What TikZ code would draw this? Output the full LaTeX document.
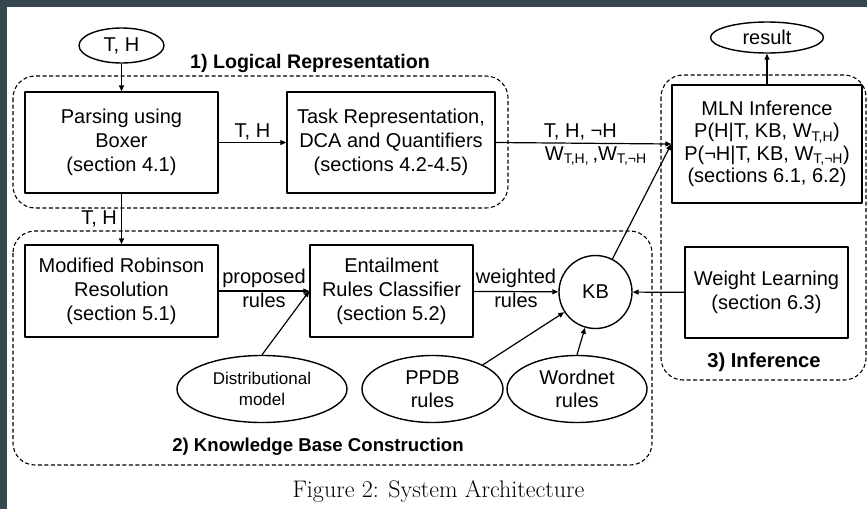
\documentclass[tikz,border=0pt]{standalone}
\usepackage{fontspec}
\setsansfont{Liberation Sans}
\usetikzlibrary{shapes.geometric,arrows.meta}
\definecolor{frameslate}{HTML}{37474F}

\begin{document}
\begin{tikzpicture}[x=1pt, y=-1pt, line width=1.4pt, line join=round,
  txt/.style={font=\fontsize{20}{24}\selectfont\sffamily, align=center},
  blk/.style={draw, rectangle, inner sep=0pt, txt},
  oval/.style={draw, ellipse, inner sep=0pt, txt},
  grp/.style={draw, line width=1.1pt, dash pattern=on 4pt off 2.5pt, rounded corners=22pt},
  ttl/.style={font=\fontsize{19.6}{23}\selectfont\sffamily\bfseries, inner sep=0pt},
  lbl/.style={txt, inner sep=2pt},
  flow/.style={-{Triangle[length=6pt,width=5pt]}, line width=1.2pt}]

  %% ════ 底色（左上的深色边）════
  \fill[frameslate] (0,0) rectangle (867,509);
  \fill[white] (7,7) rectangle (867,509);

  %% ════ 三个虚线分组 ════
  \draw[grp] (13,76) rectangle (508,208);
  \draw[grp] (13,231) rectangle (652,465);
  \draw[grp] (661,75) rectangle (866,380);

  \node[ttl] (title1) at (310,63) {1) Logical Representation};
  \node[ttl, font=\fontsize{18.6}{23}\selectfont\sffamily\bfseries] (title2) at (318,447) {2) Knowledge Base Construction};
  \node[ttl, font=\fontsize{20.2}{23}\selectfont\sffamily\bfseries] (title3) at (764,362) {3) Inference};

  %% ════ 上排：逻辑表示 + 推理 ════
  \node[oval, minimum width=85pt, minimum height=35pt] (th) at (121.5,45.5) {T, H};
  \node[blk, minimum width=193pt, minimum height=101pt] (parse) at (121.5,142.5)
    {Parsing using\\Boxer\\(section 4.1)};
  \node[blk, minimum width=208pt, minimum height=101pt] (task) at (391,142.5)
    {Task Representation,\\DCA and Quantifiers\\(sections 4.2-4.5)};
  \node[blk, minimum width=190pt, minimum height=118pt, font=\fontsize{20}{22.5}\selectfont\sffamily] (mln) at (767,144)
    {MLN Inference\\P(H|T, KB, W\textsubscript{T,H})\\P(¬H|T, KB, W\textsubscript{T,¬H})\\(sections 6.1, 6.2)};
  \node[oval, minimum width=113pt, minimum height=31pt] (result) at (767,37.5) {result};

  %% ════ 下排：知识库构建 ════
  \node[blk, minimum width=193pt, minimum height=92pt] (robinson) at (121.5,291)
    {Modified Robinson\\Resolution\\(section 5.1)};
  \node[blk, minimum width=163pt, minimum height=92pt] (classifier) at (391.5,291)
    {Entailment\\Rules Classifier\\(section 5.2)};
  \node[draw, circle, inner sep=0pt, minimum size=73pt, txt] (kb) at (595.5,292) {KB};
  \node[blk, minimum width=163pt, minimum height=91pt] (weight) at (766.5,292.5)
    {Weight Learning\\(section 6.3)};
  \node[oval, minimum width=170pt, minimum height=67pt, font=\fontsize{17}{21.5}\selectfont\sffamily] (distr) at (262,389)
    {Distributional\\model};
  \node[oval, minimum width=141pt, minimum height=67pt, font=\fontsize{20}{23}\selectfont\sffamily] (ppdb) at (432.5,389)
    {PPDB\\rules};
  \node[oval, minimum width=140pt, minimum height=67pt, font=\fontsize{20}{23}\selectfont\sffamily] (wordnet) at (577,389)
    {Wordnet\\rules};

  %% ════ 箭头 ════
  \draw[flow] (th) -- (parse);
  \draw[flow] (parse) -- node[lbl, above] (lbl1) {T, H} (task);
  \draw[flow] (task.east) -- node[lbl, pos=.26, above right, inner sep=2pt] (lbl2) {T, H, ¬H}
    node[lbl, pos=.26, below right, inner sep=3pt] (lbl3) {W\textsubscript{T,H,}\,,W\textsubscript{T,¬H}} (mln.west);
  \draw[flow] (kb) -- (mln.west);
  \draw[flow] (mln) -- (result);
  \draw[flow] (parse) -- node[lbl, left, inner sep=4pt] (lbl4) {T, H} (robinson);
  \draw[flow] (robinson) -- node[lbl, above, inner sep=3pt] (lbl5) {proposed}
    node[lbl, below, inner sep=1pt] (lbl6) {rules} (classifier);
  \draw[flow] (distr.north) -- (classifier.west);
  \draw[flow] (classifier) -- node[lbl, above, inner sep=3pt] (lbl7) {weighted}
    node[lbl, below, inner sep=1pt] (lbl8) {rules} (kb);
  \draw[flow] (ppdb.north east) -- (kb);
  \draw[flow] (wordnet.north) -- (kb);
  \draw[flow] (weight) -- (kb);

  %% ════ 图题 ════
  \node[font=\fontsize{24}{28}\selectfont, inner sep=0pt] (caption) at (438.5,491) {Figure 2: System Architecture};

  \pgfresetboundingbox
  \path[use as bounding box] (0,0) rectangle (867,509);
\end{tikzpicture}
\end{document}
